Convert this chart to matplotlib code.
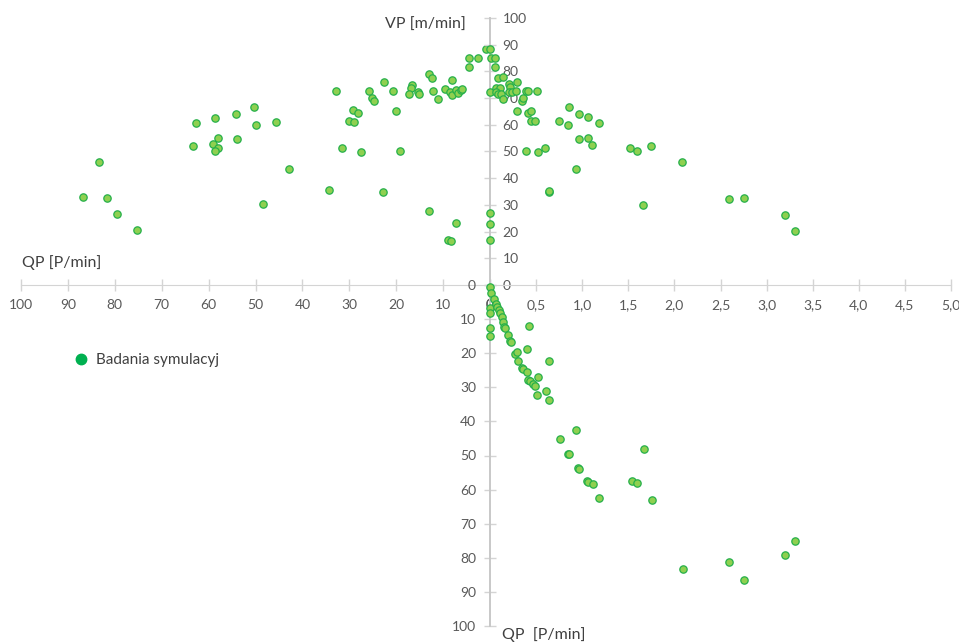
import matplotlib
matplotlib.use("Agg")
import matplotlib.pyplot as plt
from matplotlib.lines import Line2D

plt.rcParams['font.family'] = ['Lato', 'DejaVu Sans']

# ---- data ----
ul_qp = [83.4, 86.7, 81.7, 79.5, 75.3, 62.7, 58.6, 54.2, 50.3, 49.8, 45.6, 63.3, 58.1, 59.0, 58.1, 58.6,
         53.9, 42.9, 48.3, 0.9, 4.5, 2.6, 4.5, 13.0, 12.4, 8.2, 22.5, 32.8, 25.8, 20.7, 16.6, 16.8, 17.3,
         15.4, 15.1, 12.2, 11.1, 9.7, 8.5, 8.0, 7.3, 6.9, 6.2, 6.0, 25.2, 24.8, 29.3, 28.1, 30.1, 29.0,
         20.1, 31.5, 27.5, 19.2, 34.3, 22.9, 13.1, 7.2, 8.9, 8.3]
ul_vp = [45.9, 32.9, 32.6, 26.7, 20.6, 60.8, 62.7, 63.9, 66.5, 60.1, 61.2, 52.0, 55.1, 52.9, 51.2, 50.1,
         54.7, 43.3, 30.2, 88.3, 85.0, 85.0, 81.5, 78.9, 77.6, 76.9, 76.1, 72.6, 72.6, 72.6, 75.0, 73.8, 71.5,
         72.3, 71.5, 72.6, 69.7, 73.4, 72.3, 71.3, 73.0, 72.0, 73.1, 73.4, 69.9, 68.9, 65.4, 64.3, 61.6, 61.2,
         65.0, 51.2, 49.7, 50.1, 35.6, 34.8, 27.6, 23.4, 17.0, 16.3]

ur_qp = [0.0, 0.01, 0.05, 0.05, 0.0, 0.09, 0.145, 0.065, 0.11, 0.07, 0.09, 0.12, 0.21, 0.22, 0.21, 0.235,
         0.28, 0.29, 0.145, 0.345, 0.355, 0.29, 0.39, 0.415, 0.51, 0.415, 0.44, 0.45, 0.49, 0.39, 0.525,
         0.60, 0.635, 0.64, 0.86, 0.75, 0.845, 0.97, 1.06, 1.18, 0.96, 1.06, 1.11, 0.93, 1.52, 1.59, 1.75,
         2.08, 1.66, 2.59, 2.75, 3.20, 3.31, 0.0, 0.0, 0.0]
ur_vp = [88.3, 85.0, 85.2, 81.5, 72.3, 77.4, 78.0, 73.6, 73.6, 72.4, 71.5, 71.5, 75.3, 74.0, 72.1, 72.1,
         72.8, 76.1, 69.7, 69.0, 69.9, 65.0, 72.8, 72.8, 72.8, 64.3, 65.3, 61.3, 61.6, 50.1, 49.7,
         51.4, 35.0, 35.2, 66.5, 61.3, 60.1, 63.9, 62.8, 60.8, 54.7, 55.1, 52.5, 43.3, 51.4, 50.3, 52.1,
         45.9, 30.0, 32.1, 32.5, 26.4, 20.3, 27.1, 23.0, 17.0]

lr_qp = [0.0, 0.01, 0.0, 0.0, 0.0, 0.0, 0.047, 0.065, 0.08, 0.095, 0.11, 0.13, 0.145, 0.155, 0.16, 0.20,
         0.22, 0.23, 0.42, 0.27, 0.29, 0.30, 0.40, 0.645, 0.345, 0.36, 0.405, 0.415, 0.435, 0.47, 0.49,
         0.525, 0.515, 0.605, 0.645, 0.757, 0.935, 0.845, 0.86, 0.95, 0.97, 1.05, 1.06, 1.115, 1.18, 1.54,
         1.595, 1.67, 1.76, 2.09, 2.59, 2.75, 3.20, 3.31]
lr_vp = [0.5, 2.4, 6.6, 8.3, 12.5, 15.0, 4.1, 5.6, 6.5, 7.3, 8.3, 9.5, 10.8, 12.2, 12.7, 14.7,
         16.3, 16.8, 11.9, 20.2, 19.7, 22.2, 18.9, 22.4, 24.4, 24.6, 25.4, 27.8, 28.2, 28.9, 29.6,
         27.0, 32.4, 31.1, 33.8, 45.3, 42.5, 49.5, 49.7, 53.7, 54.0, 57.5, 57.9, 58.5, 62.4, 57.6,
         58.2, 48.0, 63.0, 83.2, 81.3, 86.5, 79.2, 75.0]

left_ticks = [100, 90, 80, 70, 60, 50, 40, 30, 20, 10, 0]
right_ticks = [0, 0.5, 1.0, 1.5, 2.0, 2.5, 3.0, 3.5, 4.0, 4.5, 5.0]
right_labels = ["0", "0,5", "1,0", "1,5", "2,0", "2,5", "3,0", "3,5", "4,0", "4,5", "5,0"]
vp_ticks = [0, 10, 20, 30, 40, 50, 60, 70, 80, 90, 100]
series_name = "Badania symulacyj"

# ---- layout (pixel geometry) ----
W, H = 959, 643
fig = plt.figure(figsize=(W / 100, H / 100), dpi=100)
x0, xc, x1 = 21, 490, 951
y_top, y_mid, y_bot = 18, 285, 626

def fr(l, t, r, b):
    return [l / W, 1 - b / H, (r - l) / W, (b - t) / H]

ax_ul = fig.add_axes(fr(x0, y_top, xc, y_mid))
ax_ur = fig.add_axes(fr(xc, y_top, x1, y_mid))
ax_lr = fig.add_axes(fr(xc, y_mid, x1, y_bot))

axis_col = '#d4d4d4'
tick_col = '#595959'
text_col = '#404040'
face = '#8fd050'
edge = '#25b04a'
ms = 28

for ax in (ax_ul, ax_ur, ax_lr):
    ax.set_facecolor('none')
    for s in ax.spines.values():
        s.set_visible(False)
    ax.tick_params(colors=axis_col, labelcolor=tick_col, labelsize=10, length=8,
                   width=1, direction='inout')

# upper-left
ax_ul.scatter(ul_qp, ul_vp, s=ms, c=face, edgecolors=edge, linewidths=0.9, clip_on=False, zorder=3)
ax_ul.set_xlim(100, 0)
ax_ul.set_ylim(0, 100)
ax_ul.spines['bottom'].set_visible(True)
ax_ul.spines['bottom'].set_color(axis_col)
ax_ul.set_xticks(left_ticks)
ax_ul.set_xticklabels([str(t) for t in left_ticks])
ax_ul.tick_params(axis='x', pad=6)
ax_ul.set_yticks([])

# upper-right
ax_ur.scatter(ur_qp, ur_vp, s=ms, c=face, edgecolors=edge, linewidths=0.9, clip_on=False, zorder=3)
ax_ur.set_xlim(0, 5)
ax_ur.set_ylim(0, 100)
ax_ur.spines['bottom'].set_visible(True)
ax_ur.spines['bottom'].set_color(axis_col)
ax_ur.spines['right'].set_visible(True)
ax_ur.spines['right'].set_color('#c8c8c8')
ax_ur.spines['right'].set_linewidth(1.4)
ax_ur.spines['right'].set_position(('data', 0))
ax_ur.yaxis.set_ticks_position('right')
ax_ur.set_yticks(vp_ticks)
ax_ur.set_yticklabels([str(t) for t in vp_ticks])
ax_ur.tick_params(axis='y', pad=5)
ax_ur.set_xticks(right_ticks)
ax_ur.set_xticklabels(right_labels)
ax_ur.tick_params(axis='x', pad=6)

# lower-right
ax_lr.scatter(lr_qp, lr_vp, s=ms, c=face, edgecolors=edge, linewidths=0.9, clip_on=False, zorder=3)
ax_lr.set_xlim(0, 5)
ax_lr.set_ylim(100, 0)
ax_lr.spines['left'].set_visible(True)
ax_lr.spines['left'].set_color('#c8c8c8')
ax_lr.spines['left'].set_linewidth(1.4)
ax_lr.set_yticks(vp_ticks)
ax_lr.set_yticklabels([str(t) for t in vp_ticks])
ax_lr.tick_params(axis='y', pad=6)
ax_lr.set_xticks([])

# axis titles
fig.text(385 / W, 1 - 25 / H, "VP [m/min]", fontsize=11.5, color=text_col, va='center', ha='left')
fig.text(22 / W, 1 - 263 / H, "QP [P/min]", fontsize=11.5, color=text_col, va='center', ha='left')
fig.text(502 / W, 1 - 635 / H, "QP  [P/min]", fontsize=11.5, color=text_col, va='center', ha='left')

# legend
handle = Line2D([], [], marker='o', ls='none', color='#00b050', markersize=7.5)
fig.legend([handle], [series_name], loc='center left', bbox_to_anchor=(58 / W, 1 - 360 / H),
           frameon=False, fontsize=11, handletextpad=0.4, handlelength=1.2,
           labelcolor=text_col)

fig.savefig("out.png", dpi=100)
